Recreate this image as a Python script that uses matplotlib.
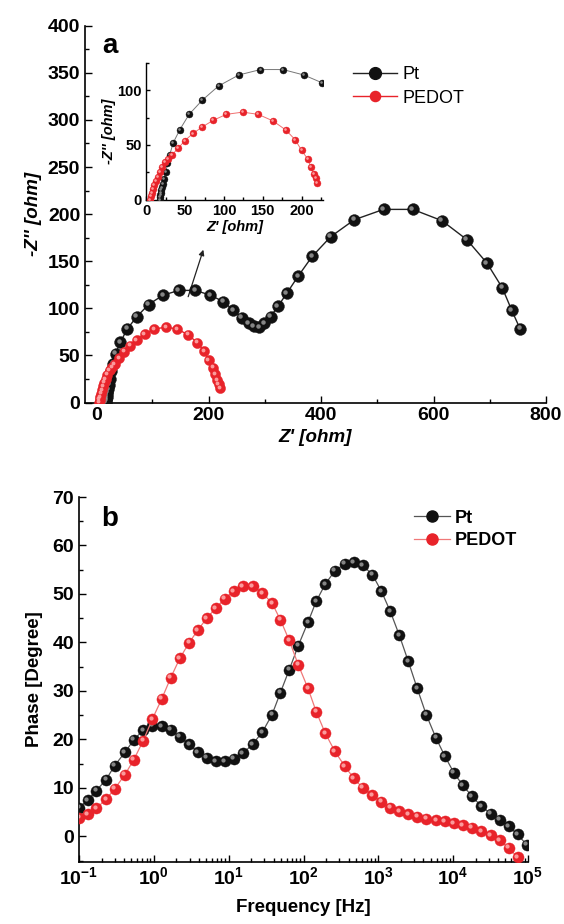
import matplotlib
matplotlib.use('Agg')
import matplotlib.pyplot as plt
import matplotlib.transforms as mtransforms
from matplotlib.lines import Line2D
from matplotlib.ticker import MultipleLocator, LogLocator, NullFormatter, FixedLocator

plt.rcParams['font.family'] = ['Liberation Sans', 'DejaVu Sans']
plt.rcParams['mathtext.fontset'] = 'custom'
plt.rcParams['mathtext.rm'] = 'Liberation Sans:bold'
plt.rcParams['mathtext.bf'] = 'Liberation Sans:bold'

# Nyquist data (Z', -Z'') in ohm
pt_zre = [17, 17.5, 18, 18.5, 19, 20, 21, 23, 25, 27, 30, 34.5, 43, 55, 72, 93, 119, 147,
          176, 203, 226, 244, 259, 271, 280, 290, 299, 310, 323, 339, 359, 384, 417, 459,
          511, 563, 615, 659, 695, 722, 739, 754]
pt_zim = [0, 2, 4, 6, 8.5, 11, 14, 19, 25, 33, 41, 52, 64, 78, 91, 104, 114, 119,
          119, 114, 107, 98, 90, 84, 81, 80, 84, 91, 102, 116, 134, 155, 176, 194,
          205, 205, 193, 173, 148, 122, 98, 78]
pedot_zre = [5, 6, 7, 8.5, 10, 12, 14.5, 17, 20, 24, 28, 33, 41, 49.5, 60, 72, 86, 103,
             124, 144, 163, 180, 192, 200, 208, 212, 215.5, 218, 220]
pedot_zim = [0, 3, 6, 9.5, 13, 17, 21, 25, 29.5, 34, 37.5, 41, 47, 54, 60.5, 66.5, 72.5, 78,
             80, 78, 72, 63.5, 54.5, 45, 37, 30, 23.5, 19.5, 15.5]

# Bode phase data
freq = [0.1, 0.13, 0.17, 0.23, 0.30, 0.41, 0.54, 0.72, 0.95, 1.28, 1.68, 2.22, 2.95, 3.86,
        5.09, 6.76, 8.9, 11.7, 15.5, 20.9, 28.2, 38, 49, 64.6, 85, 115, 148, 195, 263, 355,
        468, 617, 832, 1096, 1445, 1905, 2512, 3311, 4365, 5888, 7762, 10230, 13490, 17780,
        23710, 31620, 41690, 54950, 72440, 95500]
pt_phase = [5.9, 7.4, 9.4, 11.7, 14.6, 17.3, 19.9, 21.9, 22.8, 22.7, 22.0, 20.5, 19.0, 17.4,
            16.2, 15.5, 15.5, 16.0, 17.1, 19.0, 21.5, 25.1, 29.6, 34.4, 39.3, 44.2, 48.5, 52.0,
            54.8, 56.2, 56.5, 55.9, 54.0, 50.6, 46.4, 41.5, 36.1, 30.5, 25.1, 20.3, 16.5, 13.1,
            10.5, 8.3, 6.2, 4.7, 3.4, 2.1, 0.4, -1.7]
pedot_phase = [3.8, 4.5, 5.8, 7.6, 9.8, 12.7, 15.8, 19.7, 24.1, 28.4, 32.7, 36.7, 39.9, 42.5,
               45.0, 47.1, 49.0, 50.6, 51.6, 51.6, 50.2, 48.1, 44.7, 40.4, 35.4, 30.5, 25.7,
               21.3, 17.5, 14.5, 12.0, 10.0, 8.5, 7.1, 5.9, 5.2, 4.5, 4.0, 3.6, 3.3, 3.1, 2.75,
               2.3, 1.8, 1.1, 0.2, -0.8, -2.4, -4.3]
freq_ticks = [0.1, 1, 10, 100, 1000, 10000, 100000]
freq_ticklabels = ['$10^{-1}$', '$10^{0}$', '$10^{1}$', '$10^{2}$', '$10^{3}$', '$10^{4}$', '$10^{5}$']

W, H = 564, 924
fig = plt.figure(figsize=(W / 100, H / 100), dpi=100)


def rect(l, r, t, b):
    return [l / W, 1 - b / H, (r - l) / W, (b - t) / H]


def balls(ax, x, y, col, hi, ms, lc, lw=0.9, z=3):
    ax.plot(x, y, '-', color=lc, lw=lw, zorder=z)
    ax.plot(x, y, 'o', color=col, ms=ms, mec=col, mew=0.3, zorder=z + 0.1)
    tr = mtransforms.offset_copy(ax.transData, fig=fig, x=-ms * 0.13, y=ms * 0.13, units='points')
    ax.plot(x, y, 'o', color=hi, ms=ms * 0.38, mew=0, alpha=0.85, transform=tr, zorder=z + 0.2)


def style(ax, fs):
    for s in ['top', 'right']:
        ax.spines[s].set_visible(False)
    for s in ['left', 'bottom']:
        ax.spines[s].set_linewidth(1.2)
    ax.tick_params(which='both', direction='in', width=1.0, labelsize=fs)
    ax.tick_params(which='major', length=5)
    ax.tick_params(which='minor', length=3)
    for lab in ax.get_xticklabels() + ax.get_yticklabels():
        lab.set_fontweight('bold')


BLACK = '#111111'
RED = '#e8232a'

# ---- panel a ----
ax1 = fig.add_axes(rect(85, 546, 25.7, 402.5))
balls(ax1, pt_zre, pt_zim, BLACK, '#9a9a9a', 8.5, '#222222', lw=1.0)
balls(ax1, pedot_zre, pedot_zim, RED, '#ffb0b0', 7.3, RED, lw=1.0, z=4)
ax1.set_xlim(-20, 800)
ax1.set_ylim(0, 400)
ax1.xaxis.set_major_locator(MultipleLocator(200))
ax1.xaxis.set_minor_locator(MultipleLocator(100))
ax1.yaxis.set_major_locator(MultipleLocator(50))
ax1.yaxis.set_minor_locator(MultipleLocator(25))
style(ax1, 14)
ax1.set_xlabel("Z' [ohm]", fontsize=13.5, fontweight='bold', style='italic', labelpad=3)
ax1.set_ylabel("-Z'' [ohm]", fontsize=13.5, fontweight='bold', style='italic', labelpad=4)
ax1.text(0.037, 0.945, 'a', transform=ax1.transAxes, fontsize=20, fontweight='bold',
         ha='left', va='center')
ax1.annotate('', xy=(192, 165), xytext=(162, 109.5),
             arrowprops=dict(arrowstyle='-|>', color='#222222', lw=0.9, mutation_scale=8))

h_pt = Line2D([], [], color='#222222', lw=1.0, marker='o', ms=8.5, mfc=BLACK, mec=BLACK)
h_pe = Line2D([], [], color=RED, lw=1.0, marker='o', ms=7.3, mfc=RED, mec=RED)
ax1.legend([h_pt, h_pe], ['Pt', 'PEDOT'], loc='upper left', bbox_to_anchor=(0.547, 0.935),
           frameon=False, fontsize=13, handlelength=2.4, handletextpad=0.3, labelspacing=0.35)

# inset
axi = fig.add_axes(rect(146.5, 322.5, 63, 199.5))
balls(axi, pt_zre, pt_zim, BLACK, '#9a9a9a', 5.0, '#777777', lw=0.7)
balls(axi, pedot_zre, pedot_zim, RED, '#ffb0b0', 5.0, '#f07070', lw=0.7, z=4)
axi.set_xlim(0, 227)
axi.set_ylim(0, 125)
axi.xaxis.set_major_locator(MultipleLocator(50))
axi.xaxis.set_minor_locator(MultipleLocator(25))
axi.yaxis.set_major_locator(MultipleLocator(50))
axi.yaxis.set_minor_locator(MultipleLocator(25))
style(axi, 10.5)
for s in ['left', 'bottom']:
    axi.spines[s].set_linewidth(1.0)
axi.tick_params(which='major', length=3)
axi.tick_params(which='minor', length=2)
axi.set_xlabel("Z' [ohm]", fontsize=10.5, fontweight='bold', style='italic', labelpad=1)
axi.set_ylabel("-Z'' [ohm]", fontsize=10.5, fontweight='bold', style='italic', labelpad=1)

# ---- panel b ----
ax2 = fig.add_axes(rect(79, 528, 497, 862))
balls(ax2, freq, pt_phase, BLACK, '#9a9a9a', 8.0, '#555555', lw=0.9)
balls(ax2, freq[:len(pedot_phase)], pedot_phase, RED, '#ffb0b0', 8.0, '#f07878', lw=0.9, z=4)
ax2.set_xscale('log')
ax2.set_xlim(0.1, 1e5)
ax2.set_ylim(-5.3, 70)
ax2.xaxis.set_major_locator(FixedLocator(freq_ticks))
ax2.set_xticklabels(freq_ticklabels)
ax2.xaxis.set_minor_locator(LogLocator(base=10, subs=range(2, 10), numticks=20))
ax2.xaxis.set_minor_formatter(NullFormatter())
ax2.yaxis.set_major_locator(MultipleLocator(10))
ax2.yaxis.set_minor_locator(MultipleLocator(5))
style(ax2, 14)
ax2.set_xlabel('Frequency [Hz]', fontsize=13.5, fontweight='bold', labelpad=7)
ax2.set_ylabel('Phase [Degree]', fontsize=13.5, fontweight='bold', labelpad=7)
ax2.text(0.05, 0.94, 'b', transform=ax2.transAxes, fontsize=20, fontweight='bold',
         ha='left', va='center')
h_pt2 = Line2D([], [], color='#555555', lw=0.9, marker='o', ms=8, mfc=BLACK, mec=BLACK)
h_pe2 = Line2D([], [], color='#f07878', lw=0.9, marker='o', ms=8, mfc=RED, mec=RED)
leg2 = ax2.legend([h_pt2, h_pe2], ['Pt', 'PEDOT'], loc='upper left', bbox_to_anchor=(0.709, 1.01),
                  frameon=False, fontsize=13, handlelength=2.0, handletextpad=0.3,
                  labelspacing=0.3)
for t in leg2.get_texts():
    t.set_fontweight('bold')

fig.savefig('out.png', dpi=100)
